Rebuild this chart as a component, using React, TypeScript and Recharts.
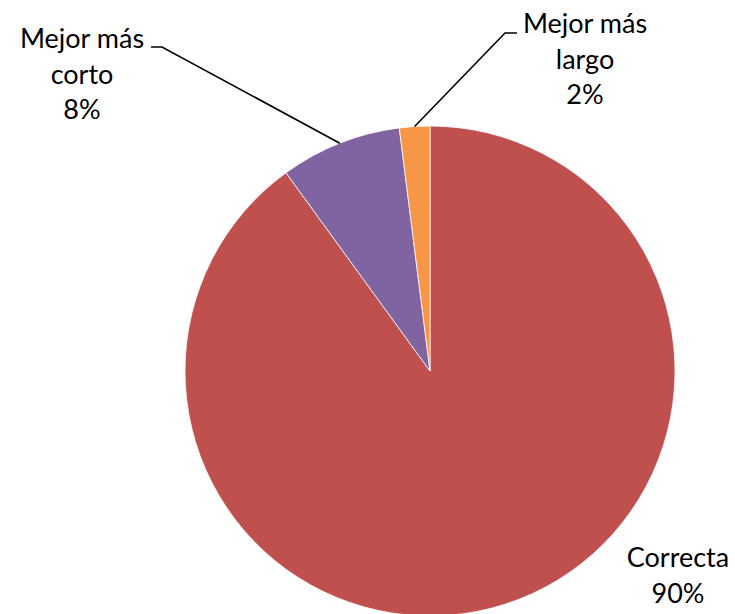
import { PieChart, Pie, Cell } from 'recharts'

const categories = ['Correcta', 'Mejor más corto', 'Mejor más largo']
const values = [90, 8, 2]
const colors = ['#C0504D', '#8064A2', '#F79646']
// label text split into lines the way the chart wraps them
const labelLines = [['Correcta'], ['Mejor más', 'corto'], ['Mejor más', 'largo']]

const data = categories.map((name, i) => ({ name, value: values[i] }))

// where each label sits (text centre x, first baseline y) and its leader elbow
const LABEL_LAYOUT = [
  { x: 678, y: 567, leader: null },
  { x: 82, y: 48, leader: { x0: 151, x1: 162, y: 47 } },
  { x: 585, y: 33, leader: { x0: 517, x1: 505, y: 33 } },
]

const FONT = 'Lato, "Noto Sans", sans-serif'
const LINE_H = 35.5
const RADIAN = Math.PI / 180

function renderLabel(props: any) {
  const { cx, cy, midAngle, outerRadius, index, percent } = props
  const layout = LABEL_LAYOUT[index]
  const lines = [...labelLines[index], `${Math.round(percent * 100)}%`]
  const ax = cx + outerRadius * Math.cos(-midAngle * RADIAN)
  const ay = cy + outerRadius * Math.sin(-midAngle * RADIAN)
  return (
    <g key={`label-${index}`}>
      {layout.leader && (
        <polyline
          points={`${layout.leader.x0},${layout.leader.y} ${layout.leader.x1},${layout.leader.y} ${ax},${ay}`}
          fill="none"
          stroke="#000"
          strokeWidth={1.6}
        />
      )}
      <text textAnchor="middle" fontFamily={FONT} fontSize={27} fill="#000">
        {lines.map((l, i) => (
          <tspan key={i} x={layout.x} y={layout.y + i * LINE_H}>
            {l}
          </tspan>
        ))}
      </text>
    </g>
  )
}

export default function App() {
  return (
    <div style={{ position: 'absolute', left: 0, top: 0, width: 735, height: 614, background: '#fff' }}>
      <PieChart width={735} height={614} margin={{ top: 0, right: 0, bottom: 0, left: 0 }}>
        <Pie
          data={data}
          dataKey="value"
          nameKey="name"
          cx={430}
          cy={371}
          outerRadius={245}
          startAngle={90}
          endAngle={-270}
          stroke="#fff"
          strokeWidth={0.75}
          label={renderLabel}
          labelLine={false}
          isAnimationActive={false}
        >
          {data.map((entry, i) => (
            <Cell key={`cell-${i}`} fill={colors[i]} />
          ))}
        </Pie>
      </PieChart>
    </div>
  )
}
